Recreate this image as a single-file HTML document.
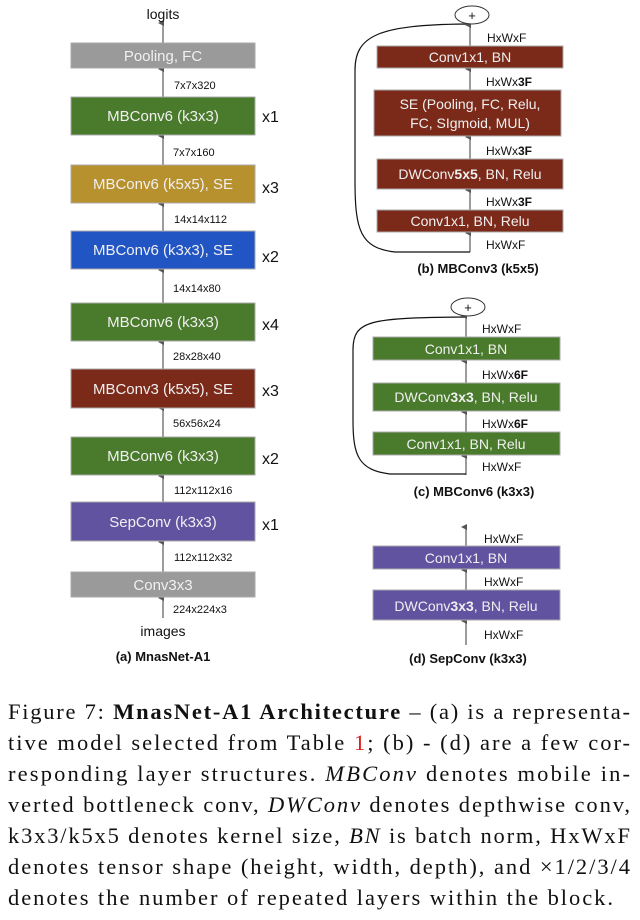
<!DOCTYPE html>
<html><head><meta charset="utf-8"><style>
html,body{margin:0;padding:0;background:#fff;}
svg{display:block;}
</style></head><body>
<svg width="640" height="920" viewBox="0 0 640 920" xmlns="http://www.w3.org/2000/svg" font-family="Liberation Sans, Arial, sans-serif">
<defs>
<marker id="ah" markerWidth="6" markerHeight="6" refX="3" refY="5" orient="auto-start-reverse" markerUnits="userSpaceOnUse"><path d="M0,6 L3,0 L6,6 Z" fill="#555"/></marker>
</defs>
<g stroke="#666" stroke-width="1.3" marker-end="url(#ah)">
<line x1="163" y1="43" x2="163" y2="23"/>
<line x1="163" y1="97" x2="163" y2="69"/>
<line x1="163" y1="165" x2="163" y2="136"/>
<line x1="163" y1="231" x2="163" y2="204"/>
<line x1="163" y1="303" x2="163" y2="270"/>
<line x1="163" y1="369" x2="163" y2="342"/>
<line x1="163" y1="437" x2="163" y2="408"/>
<line x1="163" y1="502" x2="163" y2="476"/>
<line x1="163" y1="572" x2="163" y2="542"/>
<line x1="163" y1="618" x2="163" y2="598"/>
</g>
<g stroke="#aaa" stroke-width="1">
<rect x="71" y="43" width="184" height="25" fill="#9a9a9a"/>
<rect x="71" y="97" width="184" height="38" fill="#4a7a2c"/>
<rect x="71" y="165" width="184" height="38" fill="#b8912f"/>
<rect x="71" y="231" width="184" height="38" fill="#2255c4"/>
<rect x="71" y="303" width="184" height="38" fill="#4a7a2c"/>
<rect x="71" y="369" width="184" height="39" fill="#7b2a1a"/>
<rect x="71" y="437" width="184" height="38" fill="#4a7a2c"/>
<rect x="71" y="502" width="184" height="39" fill="#6153a0"/>
<rect x="71" y="572" width="184" height="25" fill="#9a9a9a"/>
</g>
<g fill="#f0f0f0" font-size="15" text-anchor="middle">
<text x="163" y="61">Pooling, FC</text>
<text x="163" y="121">MBConv6 (k3x3)</text>
<text x="163" y="189">MBConv6 (k5x5), SE</text>
<text x="163" y="255">MBConv6 (k3x3), SE</text>
<text x="163" y="327">MBConv6 (k3x3)</text>
<text x="163" y="394">MBConv3 (k5x5), SE</text>
<text x="163" y="461">MBConv6 (k3x3)</text>
<text x="163" y="527">SepConv (k3x3)</text>
<text x="163" y="590">Conv3x3</text>
</g>
<g fill="#111" font-size="11">
<text x="174" y="89">7x7x320</text>
<text x="173" y="156">7x7x160</text>
<text x="174" y="223">14x14x112</text>
<text x="173" y="292">14x14x80</text>
<text x="173" y="360">28x28x40</text>
<text x="173" y="427">56x56x24</text>
<text x="174" y="494">112x112x16</text>
<text x="174" y="561">112x112x32</text>
<text x="173" y="613">224x224x3</text>
</g>
<g fill="#111" font-size="16">
<text x="262" y="122">x1</text>
<text x="262" y="193">x3</text>
<text x="262" y="262">x2</text>
<text x="262" y="330">x4</text>
<text x="262" y="396">x3</text>
<text x="262" y="464">x2</text>
<text x="262" y="530">x1</text>
</g>
<text x="163" y="19" font-size="14" text-anchor="middle" fill="#111">logits</text>
<text x="163" y="636" font-size="14" text-anchor="middle" fill="#111">images</text>
<text x="163" y="661" font-size="13" font-weight="bold" text-anchor="middle" fill="#111">(a) MnasNet-A1</text>

<!-- (b) -->
<g stroke="#666" stroke-width="1.3" marker-end="url(#ah)">
<line x1="470" y1="252" x2="470" y2="233"/>
<line x1="470" y1="210" x2="470" y2="190"/>
<line x1="470" y1="159" x2="470" y2="137"/>
<line x1="470" y1="90" x2="470" y2="69"/>
<line x1="470" y1="46" x2="470" y2="25"/>
</g>
<path d="M470,252 L395,252 C360,248 355,230 355,180 L355,70 C355,35 380,25 465,24" fill="none" stroke="#111" stroke-width="1.2" marker-end="url(#ah)"/>
<ellipse cx="472" cy="15" rx="17" ry="9" fill="#fff" stroke="#333" stroke-width="1"/>
<text x="472" y="20" font-size="13" text-anchor="middle" fill="#111">+</text>
<g stroke="#aaa" stroke-width="1">
<rect x="377" y="46" width="186" height="22" fill="#7b2a1a"/>
<rect x="374" y="90" width="187" height="46" fill="#7b2a1a"/>
<rect x="377" y="159" width="186" height="30" fill="#7b2a1a"/>
<rect x="377" y="210" width="186" height="22" fill="#7b2a1a"/>
</g>
<g fill="#f0f0f0" font-size="14" text-anchor="middle">
<text x="470" y="62">Conv1x1, BN</text>
<text x="470" y="109">SE (Pooling, FC, Relu,</text>
<text x="470" y="128">FC, SIgmoid, MUL)</text>
<text x="470" y="179">DWConv<tspan font-weight="bold">5x5</tspan>, BN, Relu</text>
<text x="470" y="226">Conv1x1, BN, Relu</text>
</g>
<g fill="#111" font-size="12">
<text x="487" y="42">HxWxF</text>
<text x="486" y="86">HxWx<tspan font-weight="bold">3F</tspan></text>
<text x="486" y="155">HxWx<tspan font-weight="bold">3F</tspan></text>
<text x="486" y="206">HxWx<tspan font-weight="bold">3F</tspan></text>
<text x="486" y="249">HxWxF</text>
</g>
<text x="478" y="273" font-size="13" font-weight="bold" text-anchor="middle" fill="#111">(b) MBConv3 (k5x5)</text>

<!-- (c) -->
<g stroke="#666" stroke-width="1.3" marker-end="url(#ah)">
<line x1="466" y1="475" x2="466" y2="456"/>
<line x1="466" y1="432" x2="466" y2="412"/>
<line x1="466" y1="383" x2="466" y2="361"/>
<line x1="466" y1="337" x2="466" y2="316"/>
</g>
<path d="M466,474 L390,474 C358,470 353,455 353,420 L353,350 C353,320 370,318 463,317" fill="none" stroke="#111" stroke-width="1.2" marker-end="url(#ah)"/>
<ellipse cx="468" cy="307" rx="17" ry="9" fill="#fff" stroke="#333" stroke-width="1"/>
<text x="468" y="312" font-size="13" text-anchor="middle" fill="#111">+</text>
<g stroke="#aaa" stroke-width="1">
<rect x="373" y="337" width="187" height="23" fill="#4a7a2c"/>
<rect x="373" y="383" width="187" height="28" fill="#4a7a2c"/>
<rect x="373" y="432" width="187" height="23" fill="#4a7a2c"/>
</g>
<g fill="#f0f0f0" font-size="14" text-anchor="middle">
<text x="466" y="354">Conv1x1, BN</text>
<text x="466" y="402">DWConv<tspan font-weight="bold">3x3</tspan>, BN, Relu</text>
<text x="466" y="449">Conv1x1, BN, Relu</text>
</g>
<g fill="#111" font-size="12">
<text x="482" y="333">HxWxF</text>
<text x="482" y="379">HxWx<tspan font-weight="bold">6F</tspan></text>
<text x="482" y="428">HxWx<tspan font-weight="bold">6F</tspan></text>
<text x="482" y="471">HxWxF</text>
</g>
<text x="474" y="496" font-size="13" font-weight="bold" text-anchor="middle" fill="#111">(c) MBConv6 (k3x3)</text>

<!-- (d) -->
<g stroke="#666" stroke-width="1.3" marker-end="url(#ah)">
<line x1="466" y1="645" x2="466" y2="621"/>
<line x1="466" y1="590" x2="466" y2="570"/>
<line x1="466" y1="546" x2="466" y2="527"/>
</g>
<g stroke="#aaa" stroke-width="1">
<rect x="373" y="546" width="187" height="23" fill="#6153a0"/>
<rect x="373" y="590" width="187" height="30" fill="#6153a0"/>
</g>
<g fill="#f0f0f0" font-size="14" text-anchor="middle">
<text x="466" y="563">Conv1x1, BN</text>
<text x="466" y="611">DWConv<tspan font-weight="bold">3x3</tspan>, BN, Relu</text>
</g>
<g fill="#111" font-size="12">
<text x="484" y="543">HxWxF</text>
<text x="484" y="586">HxWxF</text>
<text x="484" y="639">HxWxF</text>
</g>
<text x="468" y="663" font-size="13" font-weight="bold" text-anchor="middle" fill="#111">(d) SepConv (k3x3)</text>

<!-- caption -->
<g font-family="Liberation Serif, Times New Roman, serif" font-size="22.5" fill="#111">
<text x="8" y="719" textLength="622" lengthAdjust="spacing">Figure 7: <tspan font-weight="bold">MnasNet-A1 Architecture</tspan> – (a) is a representa-</text>
<text x="8" y="750" textLength="622" lengthAdjust="spacing">tive model selected from Table <tspan fill="#e02020">1</tspan>; (b) - (d) are a few cor-</text>
<text x="8" y="781" textLength="622" lengthAdjust="spacing">responding layer structures.  <tspan font-style="italic">MBConv</tspan> denotes mobile in-</text>
<text x="8" y="812" textLength="622" lengthAdjust="spacing">verted bottleneck conv, <tspan font-style="italic">DWConv</tspan> denotes depthwise conv,</text>
<text x="8" y="843" textLength="622" lengthAdjust="spacing">k3x3/k5x5 denotes kernel size, <tspan font-style="italic">BN</tspan> is batch norm, HxWxF</text>
<text x="8" y="874" textLength="622" lengthAdjust="spacing">denotes tensor shape (height, width, depth), and ×1/2/3/4</text>
<text x="8" y="905" textLength="605" lengthAdjust="spacing">denotes the number of repeated layers within the block.</text>
</g>
</svg>
</body></html>
